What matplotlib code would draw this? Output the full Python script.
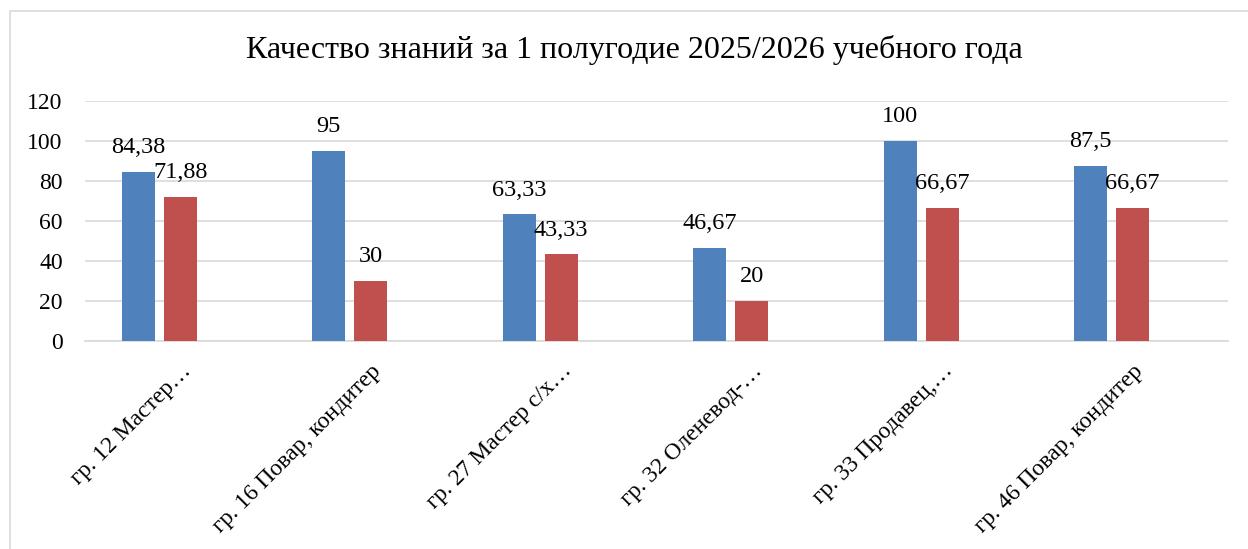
import numpy as np
import matplotlib.pyplot as plt
from matplotlib.patches import Rectangle

plt.rcParams['font.family'] = ['Liberation Serif', 'DejaVu Serif']

groups = ["гр. 12 Мастер…", "гр. 16 Повар, кондитер", "гр. 27 Мастер с/х…",
          "гр. 32 Оленевод-…", "гр. 33 Продавец,…", "гр. 46 Повар, кондитер"]
series_1 = [84.38, 95, 63.33, 46.67, 100, 87.5]
series_2 = [71.88, 30, 43.33, 20, 66.67, 66.67]
yticks = [0, 20, 40, 60, 80, 100, 120]

W, H = 1248, 549
fig = plt.figure(figsize=(W / 100, H / 100), dpi=100)
ax = fig.add_axes([85 / W, 1 - 341 / H, (1228 - 85) / W, (341 - 101) / H])

x = np.arange(len(groups))
bw = 33 / 190.5
step = 42 / 190.5
# третий ряд пустой, поэтому синие столбцы смещены влево
ax.bar(x - step, series_1, width=bw, color="#4F81BD", zorder=3)
ax.bar(x, series_2, width=bw, color="#C0504D", zorder=3)


def fmt(v):
    s = f"{v:g}"
    return s.replace(".", ",")


for xi, v in zip(x - step, series_1):
    ax.annotate(fmt(v), (xi, v), xytext=(0, 17.5), textcoords="offset points",
                ha="center", va="center", fontsize=17.5)
for xi, v in zip(x, series_2):
    ax.annotate(fmt(v), (xi, v), xytext=(0, 17.5), textcoords="offset points",
                ha="center", va="center", fontsize=17.5)

ax.set_xlim(-0.5, len(groups) - 0.5)
ax.set_ylim(0, 120)
ax.set_yticks(yticks)
ax.set_yticklabels([str(t) for t in yticks], fontsize=17)
ax.yaxis.grid(True, color="#D9D9D9", linewidth=1.2, zorder=0)
ax.set_xticks(x)
ax.set_xticklabels(groups, rotation=45, ha="right", rotation_mode="anchor", fontsize=17)
ax.tick_params(length=0)
ax.tick_params(axis="x", pad=14)
ax.tick_params(axis="y", pad=16)
for sp in ["top", "right", "left"]:
    ax.spines[sp].set_visible(False)
ax.spines["bottom"].set_color("#D9D9D9")
ax.spines["bottom"].set_linewidth(1.2)

fig.text(634 / W, 1 - 50 / H, "Качество знаний за 1 полугодие 2025/2026 учебного года",
         ha="center", va="center", fontsize=23)

fig.add_artist(Rectangle((10 / W, -0.1), 1.2, 1 - 11 / H + 0.1, transform=fig.transFigure,
                         fill=False, edgecolor="#D9D9D9", linewidth=1.2))

fig.savefig("out.png", dpi=100)
